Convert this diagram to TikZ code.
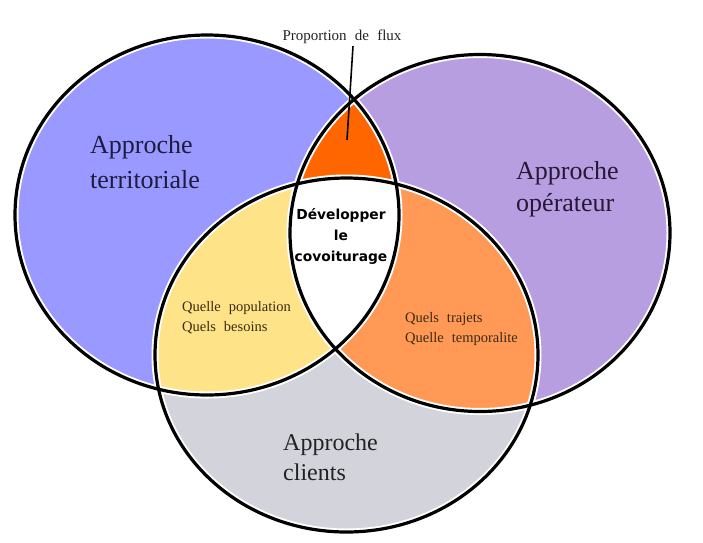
\documentclass[tikz,border=0pt]{standalone}
\usepackage{fontspec}
\setmainfont{Liberation Serif}
\newfontfamily\smallserif[WordSpace=2.2]{Liberation Serif}
\newfontfamily\boldsans{DejaVu Sans}
\definecolor{cblue}{HTML}{9999FF}
\definecolor{cpurple}{HTML}{B79EE0}
\definecolor{cgray}{HTML}{D3D3DC}
\definecolor{cyellow}{HTML}{FFE388}
\definecolor{corange}{HTML}{FF9955}
\definecolor{cdark}{HTML}{FF6600}
\definecolor{tnavy}{HTML}{1C1C40}
\definecolor{tpurple}{HTML}{261838}
\definecolor{tgray}{HTML}{222222}
\definecolor{tbrown}{HTML}{3A2A14}
\tikzset{
  mainlabel/.style={inner sep=0pt, anchor=west, align=left},
  smalllabel/.style={inner sep=0pt, anchor=west, align=left, text=tbrown,
    font={\smallserif\fontsize{14.5}{20}\selectfont}},
  ringwhite/.style={draw=white, line width=7pt},
  ringblack/.style={draw=black, line width=3.2pt},
}
\begin{document}
\begin{tikzpicture}[x=1pt,y=-1pt]
\useasboundingbox (0,0) rectangle (703,542);
\coordinate (cL) at (207,215);
\coordinate (cR) at (480,233);
\coordinate (cB) at (346.5,355);
\def\ellL{(cL) ellipse [x radius=192pt, y radius=180pt]}
\def\ellR{(cR) ellipse [x radius=190pt, y radius=178.5pt]}
\def\ellB{(cB) ellipse [x radius=191.5pt, y radius=177pt]}
% base fills
\fill[cblue] \ellL;
\fill[cpurple] \ellR;
\fill[cgray] \ellB;
% pairwise intersections
\begin{scope}
  \clip \ellL;
  \fill[cyellow] \ellB;
\end{scope}
\begin{scope}
  \clip \ellR;
  \fill[corange] \ellB;
\end{scope}
\begin{scope}
  \clip \ellL;
  \fill[cdark] \ellR;
\end{scope}
\begin{scope}
  \clip \ellL;
  \clip \ellR;
  \fill[white] \ellB;
\end{scope}
% outlines
\path[ringwhite] \ellL;
\path[ringwhite] \ellR;
\path[ringwhite] \ellB;
\path[ringblack] \ellL;
\path[ringblack] \ellR;
\path[ringblack] \ellB;
% labels
\node[mainlabel, text=tnavy, font={\fontsize{26}{35}\selectfont}] (terr) at (90,162) {Approche\\territoriale};
\node[mainlabel, text=tpurple, font={\fontsize{26}{32}\selectfont}] (oper) at (516,189) {Approche\\opérateur};
\node[mainlabel, text=tgray, font={\fontsize{24}{30}\selectfont}] (cli) at (283,457) {Approche\\clients};
\node[inner sep=0pt, align=center, font={\boldsans\bfseries\fontsize{13.8}{21}\selectfont}] (dev) at (341,236) {Développer\\le\\covoiturage};
\node[smalllabel] (pop) at (182,318) {Quelle population\\Quels besoins};
\node[smalllabel] (traj) at (405,329) {Quels trajets\\Quelle temporalite};
\node[inner sep=0pt, text=tgray, font={\smallserif\fontsize{15}{18}\selectfont}] (flux) at (342,37) {Proportion de flux};
\coordinate (fluxend) at (347,140);
\draw[line width=1.6pt] ([xshift=11pt,yshift=-2pt]flux.south) -- (fluxend);
\end{tikzpicture}
\end{document}
